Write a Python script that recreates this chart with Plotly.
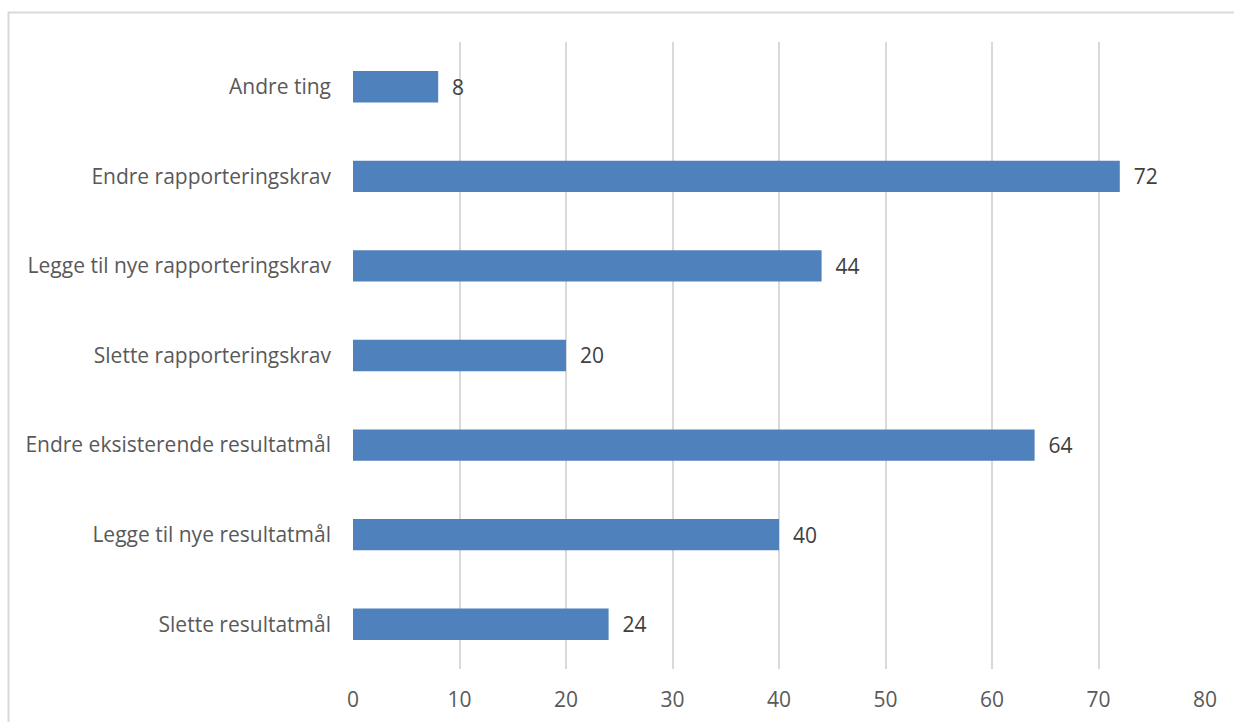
import plotly.graph_objects as go

categories = [
    "Andre ting",
    "Endre rapporteringskrav",
    "Legge til nye rapporteringskrav",
    "Slette rapporteringskrav",
    "Endre eksisterende resultatmål",
    "Legge til nye resultatmål",
    "Slette resultatmål",
]
values = [8, 72, 44, 20, 64, 40, 24]
x_ticks = [0, 10, 20, 30, 40, 50, 60, 70, 80]

W, H = 1234, 722
L, R, T, B = 353, 29, 42, 53
pw, ph = W - L - R, H - T - B

fig = go.Figure()
fig.add_trace(go.Bar(
    y=categories,
    x=values,
    orientation="h",
    marker=dict(color="#4F81BD", line=dict(width=0)),
    text=values,
    texttemplate="  %{x}",
    textposition="outside",
    textfont=dict(family="Open Sans", size=21, color="#404040"),
    cliponaxis=False,
))

# outer chart border
fig.add_shape(
    type="rect", xref="paper", yref="paper",
    x0=(8.5 - L) / pw, x1=(1240 - L) / pw,
    y0=-(730 - (H - B)) / ph, y1=((H - B) - 12.5) / ph,
    line=dict(color="#D9D9D9", width=2), fillcolor="rgba(0,0,0,0)",
    layer="below",
)

fig.update_layout(
    width=W, height=H,
    margin=dict(l=L, r=R, t=T, b=B, autoexpand=False),
    paper_bgcolor="white",
    plot_bgcolor="white",
    bargap=0.65,
    showlegend=False,
    font=dict(family="Open Sans", size=21, color="#595959"),
    xaxis=dict(
        range=[0, 80],
        tickvals=x_ticks,
        showgrid=True,
        gridcolor="#D9D9D9",
        gridwidth=1.5,
        zeroline=False,
        showline=False,
        ticks="",
        automargin=False,
        ticklabelstandoff=16,
        tickfont=dict(size=21, color="#595959"),
    ),
    yaxis=dict(
        categoryorder="array",
        categoryarray=categories[::-1],
        showgrid=False,
        zeroline=False,
        showline=False,
        ticks="",
        automargin=False,
        ticklabelstandoff=21,
        tickfont=dict(size=21, color="#595959"),
    ),
)

fig.write_html("out.html")
